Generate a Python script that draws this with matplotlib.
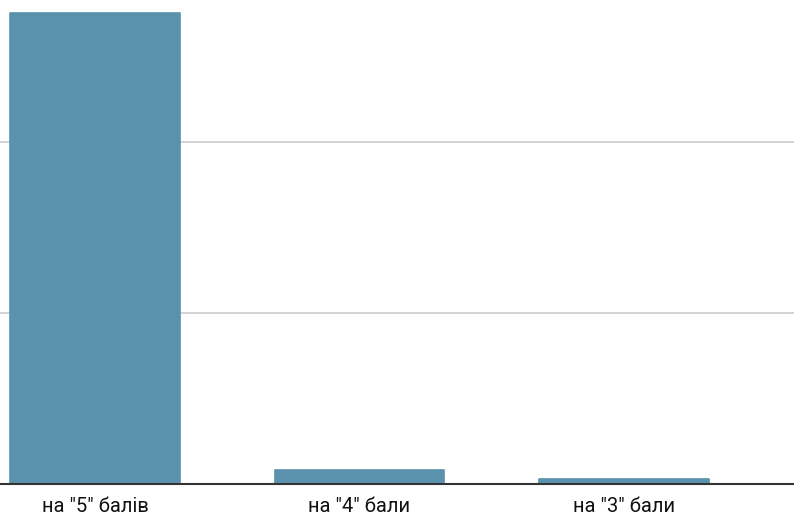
import numpy as np
import matplotlib.pyplot as plt

# оцінки та значення (одиниця = крок сітки)
categories = ['на "5" балів', 'на "4" бали', 'на "3" бали']
values = [2.755, 0.08, 0.03]

plt.rcParams['font.family'] = ['Roboto', 'DejaVu Sans']

fig = plt.figure(figsize=(7.94, 5.18), dpi=100)
ax = fig.add_axes([0, 34/518, 1, 484/518])

x = np.arange(len(categories))
ax.bar(x, values, width=0.64, color='#5a91ad', edgecolor='#5a91ad',
       linewidth=1.2, joinstyle='round', zorder=3)

ax.set_xlim(-0.359, 2.643)
ax.set_ylim(0, 484/171)
ax.set_yticks([1, 2])
ax.set_yticklabels([])
ax.yaxis.grid(True, color='#cccccc', linewidth=1.2, zorder=0)
ax.tick_params(axis='y', length=0)

ax.set_xticks(x)
ax.set_xticklabels(categories, fontsize=14.5, color='#111111')
ax.tick_params(axis='x', length=0, pad=9.5)

for s in ['top', 'right', 'left']:
    ax.spines[s].set_visible(False)
ax.spines['bottom'].set_color('#333333')
ax.spines['bottom'].set_linewidth(1.5)
ax.spines['bottom'].set_zorder(4)

fig.savefig('out.png', dpi=100)
